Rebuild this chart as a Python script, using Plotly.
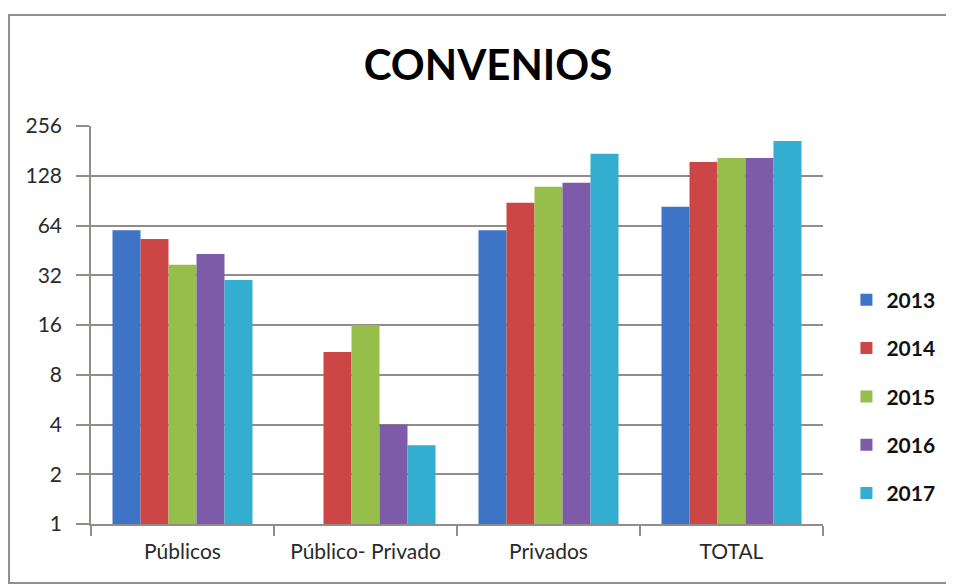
import plotly.graph_objects as go

CATEGORIES = ["Públicos", "Público- Privado", "Privados", "TOTAL"]
YEARS = ["2013", "2014", "2015", "2016", "2017"]
VALUES = {
    "2013": [60, None, 60, 83],
    "2014": [53, 11, 88, 155],
    "2015": [37, 16, 110, 164],
    "2016": [43, 4, 116, 164],
    "2017": [30, 3, 174, 208],
}
TICK_VALUES = [1, 2, 4, 8, 16, 32, 64, 128, 256]

COLORS = ["#3D74C5", "#CB4644", "#95BE4B", "#7D5BA8", "#33ADD0"]
GRID = "#948b8b"
FONT = "Lato, Open Sans, sans-serif"

fig = go.Figure()
for i, year in enumerate(YEARS):
    fig.add_trace(
        go.Bar(
            x=CATEGORIES,
            y=VALUES[year],
            name=year,
            legendgroup=year,
            marker=dict(color=COLORS[i], line=dict(width=0)),
        )
    )

# page body has an 8px margin, so the figure is sized to fit the window
fig.update_layout(
    width=946,
    height=578,
    barmode="group",
    bargap=0.235,
    bargroupgap=0,
    plot_bgcolor="white",
    paper_bgcolor="white",
    margin=dict(l=83, r=131, t=118, b=62),
    font=dict(family=FONT, size=21, color="#2a2a2a"),
    title=dict(
        text="<b>CONVENIOS</b>",
        x=0.5074,
        xanchor="center",
        y=0.9014,
        yanchor="middle",
        font=dict(family=FONT, size=42, color="#000000"),
    ),
    legend=dict(
        x=1.032,
        xanchor="left",
        y=0.32,
        yanchor="middle",
        font=dict(family=FONT, size=21, color="#111111", weight="bold"),
        tracegroupgap=18,
        itemwidth=30,
        bgcolor="rgba(0,0,0,0)",
    ),
    showlegend=True,
)

fig.update_yaxes(
    type="log",
    range=[0, 2.40824],
    tickmode="array",
    tickvals=TICK_VALUES,
    ticktext=[str(v) for v in TICK_VALUES],
    showgrid=True,
    gridcolor=GRID,
    gridwidth=1.5,
    showline=True,
    linecolor=GRID,
    linewidth=1.5,
    ticks="outside",
    ticklen=13,
    tickcolor=GRID,
    tickwidth=1.5,
    ticklabelstandoff=10,
    zeroline=False,
    tickfont=dict(family=FONT, size=21, color="#2a2a2a"),
)
fig.update_xaxes(
    showline=True,
    linecolor=GRID,
    linewidth=1.5,
    ticks="outside",
    tickson="boundaries",
    ticklen=10,
    tickcolor=GRID,
    tickwidth=1.5,
    ticklabelstandoff=8,
    showgrid=False,
    tickfont=dict(family=FONT, size=21, color="#2a2a2a"),
)

# outer chart frame
fig.add_shape(
    type="rect",
    xref="paper",
    yref="paper",
    x0=-0.112,
    x1=1.1708,
    y0=-0.1482,
    y1=1.2789,
    line=dict(color="#8f8f8f", width=2),
    layer="below",
)

fig.write_html("out.html")
